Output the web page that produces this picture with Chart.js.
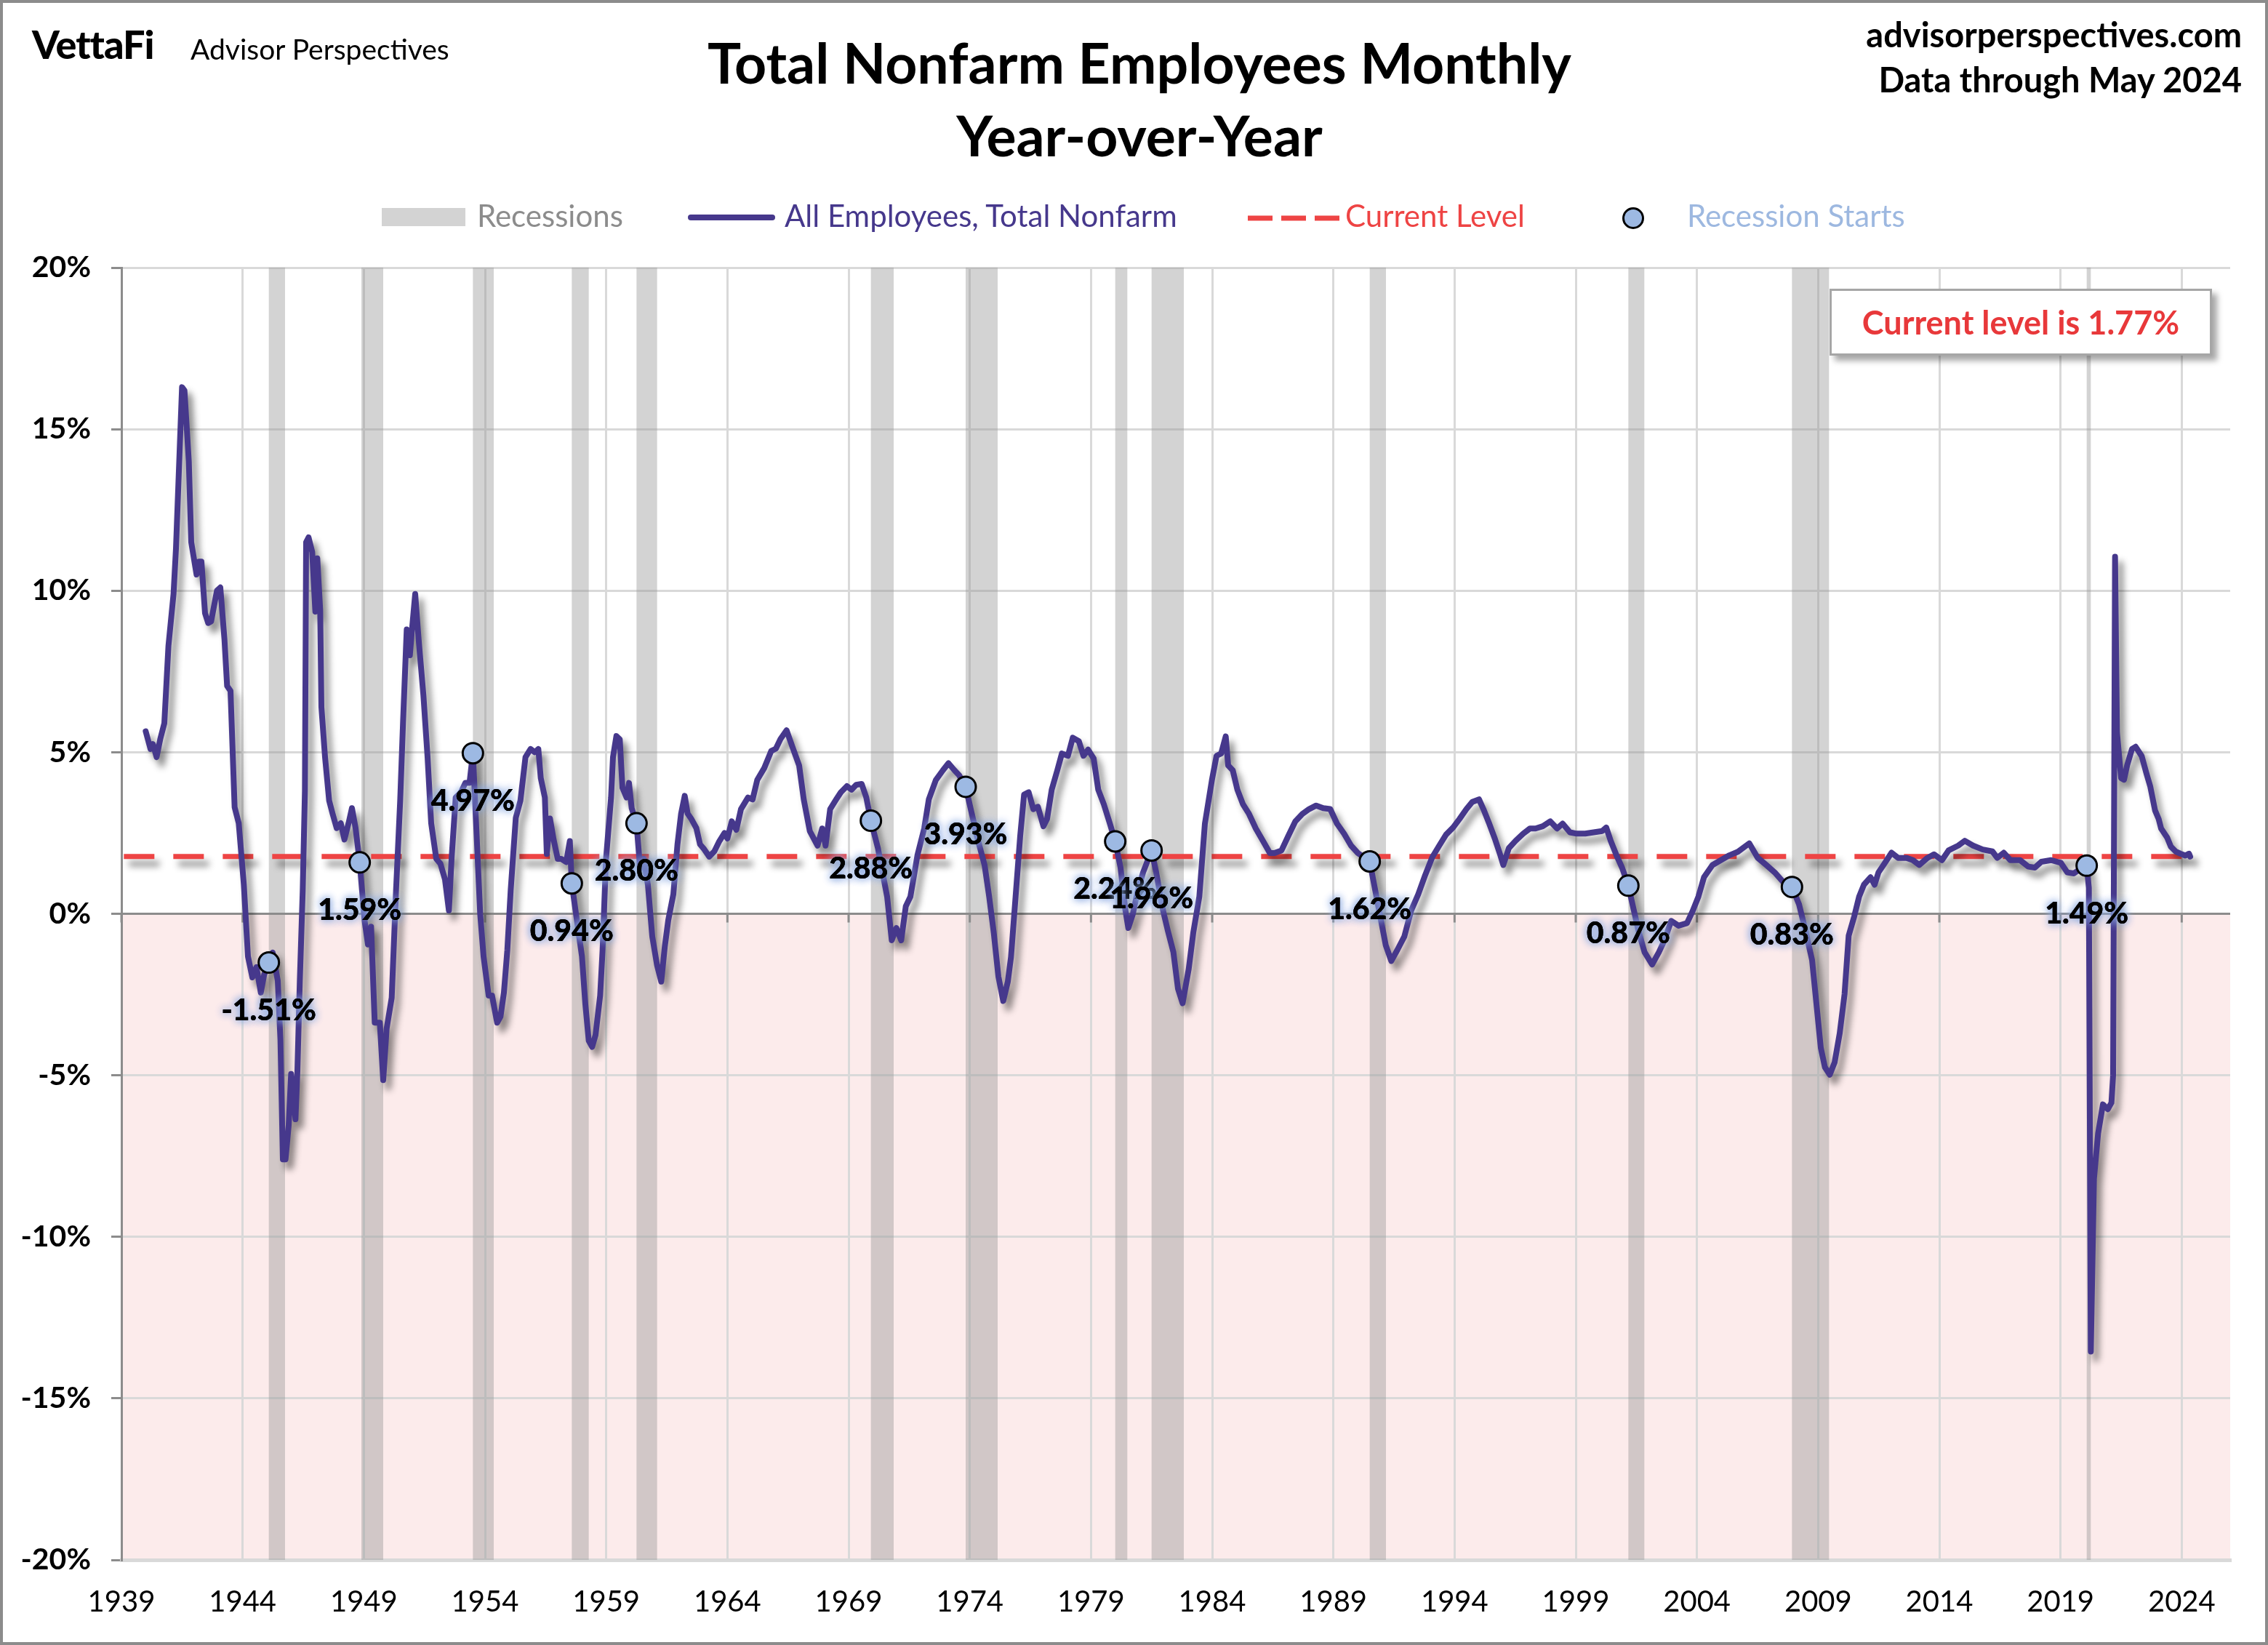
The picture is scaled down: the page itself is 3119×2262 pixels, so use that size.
<!DOCTYPE html>
<html>
<head>
<meta charset="utf-8">
<title>Total Nonfarm Employees Monthly Year-over-Year</title>
<script src="https://cdn.jsdelivr.net/npm/chart.js@4.4.1/dist/chart.umd.min.js"></script>
<style>
  html, body { margin: 0; padding: 0; background: #fff; }
  #wrap { position: relative; width: 3119px; height: 2262px; overflow: hidden; font-family: Lato, sans-serif; }
  #chart { position: absolute; left: 0; top: 0; }
  #frame { position: absolute; left: 0; top: 0; width: 3119px; height: 2262px; box-sizing: border-box; border: 4px solid #8c8c8c; pointer-events: none; }
  .txt { position: absolute; white-space: nowrap; line-height: 1.2; }
  #logo { left: 44px; top: 29px; font-size: 54px; font-weight: 900; letter-spacing: -1px; }
  #brand { left: 262px; top: 44px; font-size: 39px; }
  #title { left: 67px; width: 3000px; top: 35px; text-align: center; font-size: 77px; font-weight: 700; line-height: 100px; }
  #source { right: 36px; top: 16px; text-align: right; font-size: 47px; font-weight: 700; line-height: 62px; }
  .leg { position: absolute; top: 271px; font-size: 42px; line-height: 1.2; white-space: nowrap; }
  .sw { position: absolute; }
  #levelBox { position: absolute; left: 2516px; top: 397px; width: 526px; height: 92px; box-sizing: border-box;
    border: 3px solid #a6a6a6; background: #fff; box-shadow: 7px 7px 8px rgba(0,0,0,0.35);
    display: flex; align-items: center; justify-content: center;
    color: #e8383a; font-size: 45px; font-weight: 700; }
</style>
</head>
<body>
<div id="wrap">
  <canvas id="chart" width="3119" height="2262"></canvas>

  <div class="txt" id="logo">VettaFi</div>
  <div class="txt" id="brand">Advisor Perspectives</div>
  <div class="txt" id="title">Total Nonfarm Employees Monthly<br>Year-over-Year</div>
  <div class="txt" id="source">advisorperspectives.com<br>Data through May 2024</div>

  <div class="sw" style="left:525px; top:286px; width:115px; height:25px; background:#d3d3d3;"></div>
  <div class="leg" style="left:656px; color:#8c8c8c;">Recessions</div>
  <div class="sw" style="left:946px; top:295px; width:120px; height:8px; border-radius:4px; background:#46388c;"></div>
  <div class="leg" style="left:1079px; color:#46388c;">All Employees, Total Nonfarm</div>
  <svg class="sw" style="left:1716px; top:294px;" width="126" height="12"><line x1="0" y1="6" x2="126" y2="6" stroke="#ee4444" stroke-width="7" stroke-dasharray="34 12"/></svg>
  <div class="leg" style="left:1850px; color:#ee4444;">Current Level</div>
  <div class="sw" style="left:2231px; top:285px; width:24px; height:24px; border-radius:50%; border:3px solid #000; background:#9db9e3;"></div>
  <div class="leg" style="left:2320px; color:#9db8e0;">Recession Starts</div>

  <div id="levelBox">Current level is 1.77%</div>
  <div id="frame"></div>
</div>

<script>
// decimal year of each reading and its year-over-year change (%)
const empDates = [
  1940.00, 1940.20, 1940.30, 1940.45, 1940.60, 1940.77, 1940.94, 1941.15, 1941.25, 1941.36,
  1941.50, 1941.60, 1941.78, 1941.88, 1942.10, 1942.20, 1942.30, 1942.45, 1942.58, 1942.70,
  1942.94, 1943.08, 1943.25, 1943.36, 1943.50, 1943.67, 1943.84, 1944.05, 1944.22, 1944.40,
  1944.57, 1944.75, 1944.89, 1945.08, 1945.24, 1945.45, 1945.56, 1945.66, 1945.77, 1945.90,
  1946.00, 1946.18, 1946.26, 1946.36, 1946.48, 1946.57, 1946.62, 1946.72, 1946.87, 1947.00,
  1947.08, 1947.20, 1947.25, 1947.40, 1947.57, 1947.71, 1947.88, 1948.05, 1948.20, 1948.37,
  1948.51, 1948.66, 1948.83, 1949.03, 1949.17, 1949.30, 1949.45, 1949.66, 1949.80, 1949.94,
  1950.15, 1950.33, 1950.50, 1950.62, 1950.77, 1950.90, 1951.00, 1951.12, 1951.25, 1951.46,
  1951.63, 1951.78, 1951.99, 1952.16, 1952.35, 1952.51, 1952.62, 1952.79, 1953.00, 1953.19,
  1953.36, 1953.50, 1953.59, 1953.80, 1953.94, 1954.15, 1954.29, 1954.50, 1954.64, 1954.78,
  1954.92, 1955.06, 1955.27, 1955.46, 1955.67, 1955.88, 1956.05, 1956.20, 1956.30, 1956.47,
  1956.55, 1956.68, 1956.83, 1957.00, 1957.14, 1957.35, 1957.50, 1957.58, 1957.79, 1958.00,
  1958.14, 1958.28, 1958.42, 1958.56, 1958.75, 1958.85, 1958.99, 1959.20, 1959.28, 1959.42,
  1959.56, 1959.67, 1959.84, 1959.94, 1960.05, 1960.25, 1960.40, 1960.55, 1960.72, 1960.90,
  1961.10, 1961.27, 1961.42, 1961.56, 1961.77, 1961.94, 1962.09, 1962.24, 1962.36, 1962.50,
  1962.72, 1962.87, 1963.04, 1963.25, 1963.46, 1963.67, 1963.88, 1964.00, 1964.18, 1964.37,
  1964.56, 1964.85, 1965.04, 1965.23, 1965.52, 1965.81, 1966.00, 1966.19, 1966.44, 1966.67,
  1966.96, 1967.15, 1967.40, 1967.72, 1967.91, 1968.05, 1968.24, 1968.49, 1968.68, 1968.93,
  1969.12, 1969.31, 1969.54, 1969.73, 1969.92, 1970.21, 1970.40, 1970.59, 1970.78, 1970.97,
  1971.17, 1971.36, 1971.55, 1971.84, 1972.12, 1972.31, 1972.60, 1972.89, 1973.12, 1973.37,
  1973.56, 1973.83, 1974.04, 1974.32, 1974.61, 1974.80, 1974.99, 1975.18, 1975.38, 1975.57,
  1975.70, 1975.89, 1976.08, 1976.24, 1976.43, 1976.62, 1976.81, 1977.04, 1977.19, 1977.38,
  1977.61, 1977.80, 1978.05, 1978.25, 1978.50, 1978.69, 1978.88, 1979.11, 1979.30, 1979.53,
  1979.78, 1980.00, 1980.22, 1980.41, 1980.54, 1980.73, 1980.92, 1981.15, 1981.50, 1981.69,
  1981.98, 1982.17, 1982.40, 1982.59, 1982.78, 1983.03, 1983.22, 1983.47, 1983.70, 1983.99,
  1984.18, 1984.37, 1984.56, 1984.66, 1984.85, 1985.04, 1985.27, 1985.52, 1985.80, 1986.09,
  1986.38, 1986.57, 1986.86, 1987.14, 1987.43, 1987.72, 1988.00, 1988.29, 1988.58, 1988.87,
  1989.15, 1989.44, 1989.73, 1990.01, 1990.50, 1990.68, 1990.97, 1991.16, 1991.39, 1991.64,
  1991.93, 1992.21, 1992.50, 1992.79, 1993.08, 1993.36, 1993.65, 1993.94, 1994.21, 1994.49,
  1994.73, 1995.01, 1995.19, 1995.43, 1995.66, 1995.89, 1996.01, 1996.24, 1996.52, 1996.83,
  1997.11, 1997.34, 1997.64, 1997.95, 1998.23, 1998.46, 1998.76, 1999.04, 1999.39, 1999.74,
  2000.09, 2000.26, 2000.44, 2000.68, 2000.91, 2001.17, 2001.38, 2001.61, 2001.84, 2002.15,
  2002.43, 2002.66, 2002.94, 2003.24, 2003.59, 2003.82, 2004.06, 2004.29, 2004.64, 2004.99,
  2005.34, 2005.69, 2006.16, 2006.51, 2006.86, 2007.21, 2007.56, 2007.92, 2008.21, 2008.48,
  2008.75, 2008.95, 2009.11, 2009.28, 2009.48, 2009.68, 2009.89, 2010.09, 2010.26, 2010.49,
  2010.69, 2010.89, 2011.16, 2011.33, 2011.49, 2011.76, 2012.03, 2012.30, 2012.64, 2012.91,
  2013.17, 2013.51, 2013.78, 2014.11, 2014.38, 2014.78, 2015.05, 2015.39, 2015.79, 2016.19,
  2016.39, 2016.66, 2016.93, 2017.33, 2017.67, 2017.94, 2018.21, 2018.61, 2019.01, 2019.28,
  2019.55, 2019.82, 2020.08, 2020.17, 2020.25, 2020.38, 2020.55, 2020.75, 2020.95, 2021.10,
  2021.17, 2021.25, 2021.33, 2021.50, 2021.62, 2021.75, 2021.95, 2022.10, 2022.35, 2022.55,
  2022.70, 2022.90, 2023.05, 2023.15, 2023.40, 2023.55, 2023.75, 2023.95, 2024.15, 2024.30,
  2024.35
];
const empYoY = [
  5.65, 5.10, 5.25, 4.85, 5.40, 5.90, 8.30, 9.90, 11.30, 13.50,
  16.30, 16.20, 14.00, 11.50, 10.50, 10.90, 10.90, 9.30, 9.00, 9.05,
  10.00, 10.10, 8.50, 7.05, 6.90, 3.30, 2.80, 0.90, -1.32, -1.97,
  -1.65, -2.44, -1.88, -1.51, -1.20, -2.07, -3.90, -7.60, -7.60, -6.55,
  -4.96, -6.36, -4.87, -2.07, 0.73, 3.80, 11.50, 11.65, 11.20, 9.35,
  11.00, 9.40, 6.40, 4.85, 3.50, 3.10, 2.65, 2.80, 2.30, 2.80,
  3.27, 2.65, 1.59, -0.20, -0.95, -0.40, -3.37, -3.37, -5.15, -3.56,
  -2.60, 0.73, 3.50, 5.96, 8.80, 8.00, 8.90, 9.90, 8.60, 6.75,
  4.85, 2.80, 1.70, 1.55, 1.06, 0.10, 1.70, 3.60, 3.75, 4.05,
  4.05, 4.97, 3.50, 0.00, -1.32, -2.53, -2.53, -3.37, -3.18, -2.44,
  -1.13, 0.73, 2.97, 3.50, 4.85, 5.10, 5.00, 5.10, 4.20, 3.60,
  1.85, 2.95, 2.30, 1.70, 1.70, 1.60, 2.25, 0.94, -0.20, -1.32,
  -2.80, -3.93, -4.12, -3.75, -2.53, -1.13, 1.67, 3.60, 4.85, 5.50,
  5.40, 3.90, 3.60, 4.05, 3.27, 2.80, 1.40, 1.70, 0.90, -0.70,
  -1.60, -2.10, -1.00, -0.20, 0.60, 2.15, 3.10, 3.65, 3.10, 2.95,
  2.65, 2.15, 2.00, 1.77, 1.93, 2.25, 2.50, 2.33, 2.86, 2.60,
  3.24, 3.60, 3.54, 4.14, 4.51, 5.04, 5.11, 5.41, 5.68, 5.19,
  4.59, 3.54, 2.56, 2.11, 2.64, 2.11, 3.24, 3.54, 3.76, 3.95,
  3.84, 3.99, 4.02, 3.60, 2.88, 2.03, 1.28, 0.53, -0.82, -0.44,
  -0.82, 0.23, 0.53, 1.81, 2.64, 3.54, 4.14, 4.44, 4.66, 4.44,
  4.29, 3.93, 3.24, 2.33, 1.51, 0.53, -0.59, -1.94, -2.70, -2.10,
  -1.34, 0.53, 2.41, 3.69, 3.76, 3.24, 3.31, 2.71, 2.94, 3.84,
  4.44, 4.96, 4.89, 5.45, 5.34, 4.89, 5.08, 4.81, 3.84, 3.39,
  2.79, 2.24, 1.43, 0.16, -0.44, 0.00, 0.68, 1.28, 1.96, 1.28,
  0.08, -0.52, -1.19, -2.32, -2.77, -1.72, -0.59, 0.53, 2.79, 4.14,
  4.89, 4.96, 5.49, 4.59, 4.44, 3.84, 3.39, 3.09, 2.64, 2.26,
  1.88, 1.88, 1.96, 2.41, 2.86, 3.09, 3.24, 3.35, 3.27, 3.24,
  2.79, 2.48, 2.11, 1.88, 1.62, 0.91, -0.22, -0.97, -1.46, -1.12,
  -0.70, 0.10, 0.60, 1.20, 1.75, 2.10, 2.45, 2.67, 2.94, 3.24,
  3.46, 3.54, 3.24, 2.79, 2.33, 1.81, 1.51, 2.03, 2.26, 2.48,
  2.64, 2.64, 2.71, 2.86, 2.64, 2.79, 2.52, 2.48, 2.48, 2.52,
  2.56, 2.67, 2.26, 1.81, 1.43, 0.87, 0.16, -0.59, -1.19, -1.57,
  -1.19, -0.82, -0.22, -0.37, -0.29, 0.08, 0.53, 1.13, 1.51, 1.66,
  1.81, 1.92, 2.18, 1.73, 1.51, 1.28, 0.98, 0.83, 0.30, -0.53,
  -1.43, -2.94, -4.15, -4.75, -4.98, -4.60, -3.70, -2.49, -0.68, -0.08,
  0.53, 0.90, 1.13, 0.90, 1.28, 1.58, 1.89, 1.73, 1.73, 1.66,
  1.51, 1.73, 1.84, 1.66, 1.96, 2.11, 2.26, 2.11, 1.99, 1.93,
  1.73, 1.89, 1.66, 1.66, 1.46, 1.43, 1.61, 1.66, 1.58, 1.28,
  1.25, 1.39, 1.49, 0.80, -13.55, -8.20, -6.80, -5.90, -6.05, -5.85,
  -5.00, 11.05, 5.60, 4.20, 4.15, 4.60, 5.10, 5.17, 4.88, 4.33,
  3.95, 3.20, 2.93, 2.64, 2.36, 2.08, 1.93, 1.86, 1.80, 1.86,
  1.77
];

// latest reading, drawn as a dashed level across the whole period
const currentLevel = 1.77;
const levelDates = [1939.1, 2024.35];

// NBER recessions (start / end, decimal years)
const recessionStart = [1945.08, 1948.90, 1953.50, 1957.58, 1960.25, 1969.92, 1973.83, 1980.00, 1981.50, 1990.50, 2001.17, 2007.92, 2020.08];
const recessionEnd   = [1945.75, 1949.80, 1954.36, 1958.28, 1961.10, 1970.86, 1975.15, 1980.50, 1982.83, 1991.17, 2001.83, 2009.45, 2020.25];

// reading at the start of each recession
const startDates  = [1945.08, 1948.83, 1953.50, 1957.58, 1960.25, 1969.92, 1973.83, 1980.00, 1981.50, 1990.50, 2001.17, 2007.92, 2020.08];
const startValues = [-1.51, 1.59, 4.97, 0.94, 2.80, 2.88, 3.93, 2.24, 1.96, 1.62, 0.87, 0.83, 1.49];

const tickYears = [1939, 1944, 1949, 1954, 1959, 1964, 1969, 1974, 1979, 1984, 1989, 1994, 1999, 2004, 2009, 2014, 2019, 2024];

Chart.defaults.font.family = 'Lato, sans-serif';

// pink area below zero, recession bands, short ticks on the zero line
const backdrop = {
  id: 'backdrop',
  beforeDraw(chart) {
    const { ctx, chartArea: a, scales: { y } } = chart;
    const y0 = y.getPixelForValue(0);
    ctx.save();
    ctx.fillStyle = '#fcebeb';
    ctx.fillRect(a.left, y0, a.right - a.left, a.bottom - y0);
    ctx.restore();
  },
  beforeDatasetsDraw(chart) {
    const { ctx, chartArea: a, scales: { x, y } } = chart;
    ctx.save();
    ctx.fillStyle = 'rgba(150,150,150,0.42)';
    recessionStart.forEach((s, i) => {
      const x1 = x.getPixelForValue(s);
      const x2 = x.getPixelForValue(recessionEnd[i]);
      ctx.fillRect(x1, a.top, x2 - x1, a.bottom - a.top);
    });
    const y0 = y.getPixelForValue(0);
    ctx.strokeStyle = '#8c8c8c';
    ctx.lineWidth = 3;
    ctx.beginPath();
    ctx.moveTo(a.left, y0);
    ctx.lineTo(a.right, y0);
    tickYears.forEach(t => {
      const px = x.getPixelForValue(t);
      ctx.moveTo(px, y0);
      ctx.lineTo(px, y0 + 12);
    });
    ctx.stroke();
    ctx.restore();
  }
};

// soft drop shadow under the lines
const lineShadow = {
  id: 'lineShadow',
  beforeDatasetDraw(chart, args) {
    if (!args.meta.dataset || chart.data.datasets[args.index].shadow !== true) return;
    const ctx = chart.ctx;
    ctx.save();
    ctx.shadowColor = 'rgba(0,0,0,0.45)';
    ctx.shadowBlur = 10;
    ctx.shadowOffsetX = 7;
    ctx.shadowOffsetY = 10;
  },
  afterDatasetDraw(chart, args) {
    if (!args.meta.dataset || chart.data.datasets[args.index].shadow !== true) return;
    chart.ctx.restore();
  }
};

// value labels under the recession-start markers
const startLabels = {
  id: 'startLabels',
  afterDatasetsDraw(chart) {
    const { ctx, scales: { x, y } } = chart;
    ctx.save();
    ctx.font = '900 41px Lato, sans-serif';
    ctx.textAlign = 'center';
    ctx.textBaseline = 'middle';
    startDates.forEach((d, i) => {
      const px = x.getPixelForValue(d);
      const py = y.getPixelForValue(startValues[i]) + 66;
      const txt = startValues[i].toFixed(2) + '%';
      ctx.shadowColor = 'rgba(140,170,225,1)';
      ctx.shadowBlur = 12;
      ctx.fillStyle = '#000';
      ctx.fillText(txt, px, py);
      ctx.fillText(txt, px, py);
      ctx.shadowBlur = 0;
      ctx.fillText(txt, px, py);
    });
    ctx.restore();
  }
};

new Chart(document.getElementById('chart'), {
  type: 'line',
  data: {
    datasets: [
      {
        label: 'Recession Starts',
        data: startDates.map((d, i) => ({ x: d, y: startValues[i] })),
        showLine: false,
        pointRadius: 14,
        pointBackgroundColor: '#9db9e3',
        pointBorderColor: '#000',
        pointBorderWidth: 3,
        order: 0
      },
      {
        label: 'All Employees, Total Nonfarm',
        data: empDates.map((d, i) => ({ x: d, y: empYoY[i] })),
        borderColor: '#46388c',
        borderWidth: 8,
        borderJoinStyle: 'round',
        borderCapStyle: 'round',
        pointRadius: 0,
        tension: 0,
        shadow: true,
        order: 1
      },
      {
        label: 'Current Level',
        data: levelDates.map(d => ({ x: d, y: currentLevel })),
        borderColor: '#ee4444',
        borderWidth: 7,
        borderDash: [42, 26],
        pointRadius: 0,
        shadow: true,
        order: 2
      }
    ]
  },
  options: {
    responsive: false,
    devicePixelRatio: 1,
    animation: false,
    layout: { padding: { top: 368, right: 52, left: 0, bottom: 0 } },
    plugins: {
      legend: { display: false },
      tooltip: { enabled: false }
    },
    scales: {
      x: {
        type: 'linear',
        min: 1939,
        max: 2026,
        afterBuildTicks: s => { s.ticks = tickYears.map(v => ({ value: v })); },
        afterFit: s => { s.height = 117; },
        grid: { color: '#d9d9d9', lineWidth: 3, drawTicks: false },
        border: { display: true, color: '#d9d9d9', width: 5 },
        ticks: {
          padding: 34,
          maxRotation: 0,
          autoSkip: false,
          color: '#000',
          font: { size: 40 },
          callback: v => String(v)
        }
      },
      y: {
        min: -20,
        max: 20,
        afterFit: s => { s.width = 167; },
        grid: { color: '#d9d9d9', lineWidth: 3, tickLength: 14, tickColor: '#8c8c8c' },
        border: { color: '#8c8c8c', width: 3 },
        ticks: {
          stepSize: 5,
          padding: 28,
          color: '#000',
          font: { size: 41, weight: 'bold' },
          callback: v => v + '%'
        }
      }
    }
  },
  plugins: [backdrop, lineShadow, startLabels]
});
</script>
</body>
</html>
